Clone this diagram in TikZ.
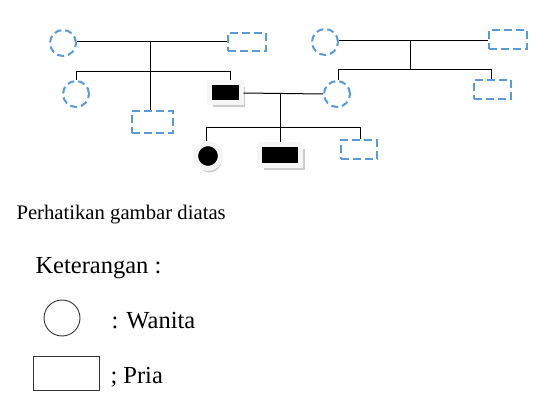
\documentclass[tikz,border=0pt]{standalone}
\usepackage{fontspec}
\setmainfont{Liberation Serif}
\usetikzlibrary{shadows}
\definecolor{dashblue}{RGB}{91,155,213}

\begin{document}
\begin{tikzpicture}[x=1pt,y=-1pt,line width=1pt,
  female node/.style={circle,draw=dashblue,line width=2pt,dash pattern=on 7pt off 4pt,minimum size=26pt,inner sep=0pt},
  male node/.style={rectangle,draw=dashblue,line width=2pt,dash pattern=on 8pt off 4pt,inner sep=0pt},
  sick female/.style={circle,fill=black,draw=gray!8,line width=5pt,minimum size=25pt,inner sep=0pt,
    drop shadow={shadow xshift=1.5pt,shadow yshift=-4pt,fill=gray!40,opacity=1}},
  sick male/.style={rectangle,fill=black,draw=gray!8,line width=5pt,inner sep=0pt,
    drop shadow={shadow xshift=4pt,shadow yshift=-4.5pt,fill=gray!40,opacity=1}},
  small text/.style={anchor=base west,inner sep=0pt,font=\fontsize{20.7}{24}\selectfont},
  big text/.style={anchor=base west,inner sep=0pt,font=\fontsize{24.5}{28}\selectfont}]
\useasboundingbox (0,0) rectangle (547,401);

% first grandparents and their children
\node[female node](G1F) at (63,43) {};
\node[male node,minimum width=38pt,minimum height=18pt](G1M) at (247,42) {};
\node[female node](C1) at (76,94) {};
\node[male node,minimum width=41pt,minimum height=22pt](C2) at (152,122) {};
\node[sick male,minimum width=32pt,minimum height=20pt](C3) at (225,93) {};

% second grandparents and their children
\node[female node](G2F) at (325,42) {};
\node[male node,minimum width=38pt,minimum height=19pt](G2M) at (508,40) {};
\node[female node](C4) at (337,94) {};
\node[male node,minimum width=37pt,minimum height=19pt](C5) at (492,90) {};

% grandchildren
\node[sick female](K1) at (208,156) {};
\node[sick male,minimum width=41pt,minimum height=21pt](K2) at (280,155) {};
\node[male node,minimum width=36pt,minimum height=19pt](K3) at (359,150) {};

\coordinate (J1) at (150,42);
\coordinate (B1L) at (76,72);
\coordinate (B1R) at (230,72);
\coordinate (J2) at (410,41);
\coordinate (B2L) at (338,70);
\coordinate (B2R) at (491,70);
\coordinate (J3) at (280,93);
\coordinate (B3L) at (206,128);
\coordinate (B3R) at (360,128);

\draw (G1F.east |- J1) -- (G1M.west |- J1);
\draw (J1) -- (J1 |- C2.north);
\draw (C1.north) -- (B1L) -- (B1R) -- (B1R |- C3.north);
\draw (G2F.east |- J2) -- (G2M.west |- J2);
\draw (J2) -- (J2 |- B2L);
\draw (C4.north -| B2L) -- (B2L) -- (B2R) -- (C5.north -| B2R);
\draw (C3.east) -- (C4.west);
\draw (J3) -- (K2.north);
\draw (K1.north -| B3L) -- (B3L) -- (B3R) -- (K3.north -| B3R);

% legend
\node[small text](T1) at (16,220) {Perhatikan gambar diatas};
\node[big text](T2) at (35,273) {Keterangan :};
\node[circle,draw=gray!40!black,line width=0.9pt,minimum size=36pt,inner sep=0pt](LW) at (62,318) {};
\node[big text](T3) at (111,329) {: Wanita};
\node[rectangle,draw=gray!40!black,line width=0.9pt,minimum width=66pt,minimum height=34pt,inner sep=0pt](LP) at (66,373) {};
\node[big text](T4) at (110,383) {; Pria};
\end{tikzpicture}
\end{document}
